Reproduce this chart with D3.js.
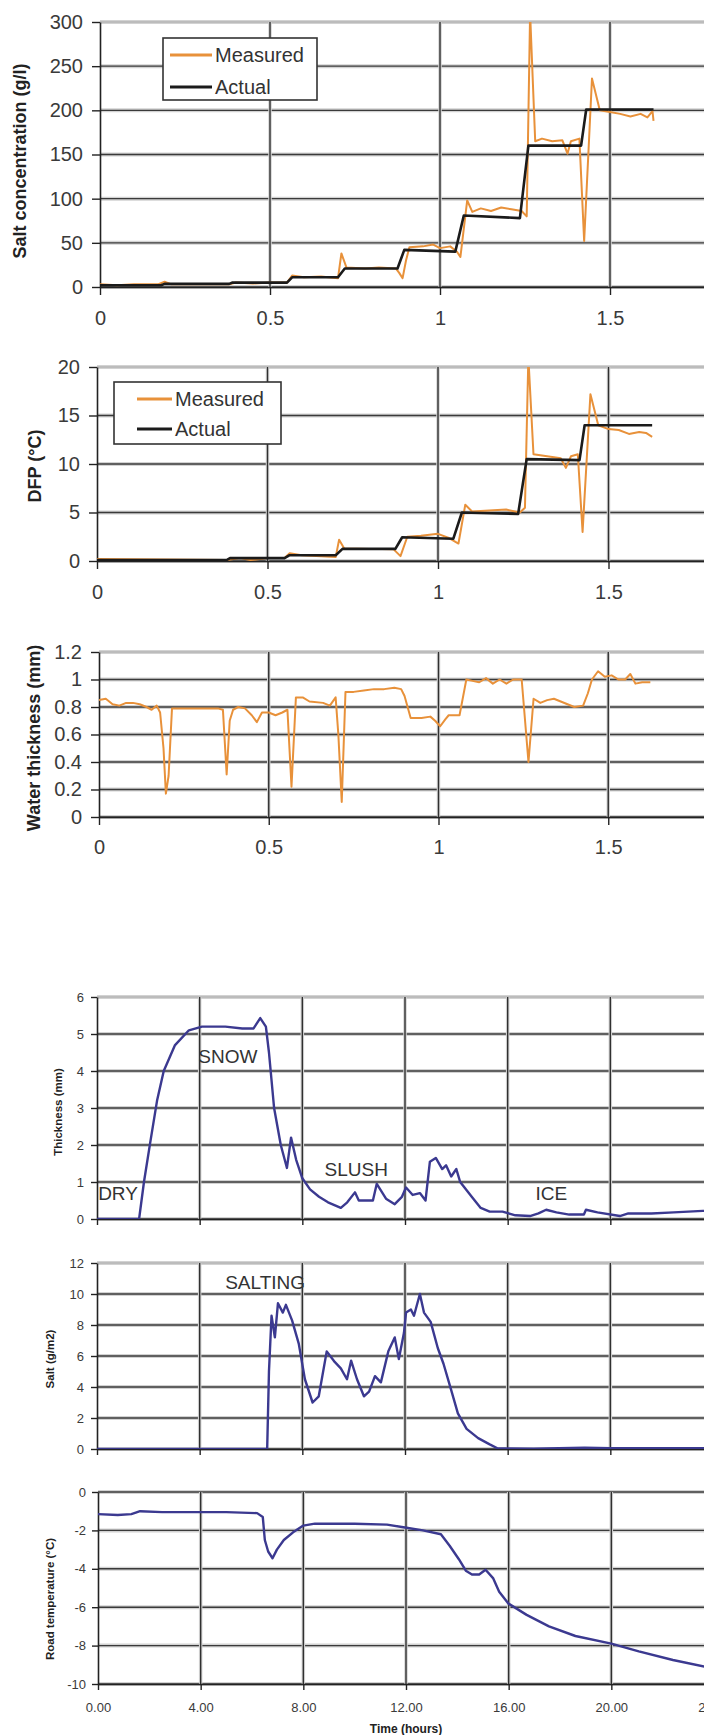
<!DOCTYPE html>
<html>
<head>
<meta charset="utf-8">
<script src="https://cdn.jsdelivr.net/npm/d3@7"></script>
<style>
  body { margin: 0; background: #fff; }
  svg { display: block; font-family: "Liberation Sans", Arial, sans-serif; }
</style>
</head>
<body>
<div id="chart"></div>
<script>
// ---- datos ----
const hoursTicks = [0, 4, 8, 12, 16, 20, 24];
const hoursLabels = ["0.00", "4.00", "8.00", "12.00", "16.00", "20.00", "24.00"];
const runTicks = [0, 0.5, 1, 1.5];

const saltConcTicks = [0, 50, 100, 150, 200, 250, 300];
const dfpTicks = [0, 5, 10, 15, 20];
const waterTicks = [0, 0.2, 0.4, 0.6, 0.8, 1, 1.2];
const thickTicks = [0, 1, 2, 3, 4, 5, 6];
const saltTicks = [0, 2, 4, 6, 8, 10, 12];
const tempTicks = [-10, -8, -6, -4, -2, 0];

const saltActual = [[0,2],[0.18,2],[0.19,3.5],[0.38,3.5],[0.39,5],[0.55,5],[0.565,11],[0.70,11],[0.72,21],[0.875,21],
  [0.895,42],[1.045,40],[1.07,81],[1.235,78],[1.26,160],[1.415,160],[1.43,201],[1.628,201]];
const saltMeasured = [[0,3],[0.05,2],[0.1,3],[0.17,3],[0.19,6],[0.21,3],[0.3,3],[0.38,3],[0.4,5],[0.45,4],[0.5,5],[0.55,5],
  [0.565,13],[0.6,11],[0.65,12],[0.70,10],[0.71,38],[0.725,22],[0.78,21],[0.82,22],[0.87,21],[0.88,16],[0.89,10],[0.9,30],
  [0.91,45],[0.95,46],[0.98,48],[1.0,44],[1.03,46],[1.05,40],[1.06,34],[1.08,98],[1.095,85],[1.12,89],[1.15,86],[1.18,90],
  [1.21,88],[1.24,86],[1.255,80],[1.265,310],[1.28,165],[1.3,168],[1.33,165],[1.36,166],[1.375,151],[1.385,165],[1.41,168],
  [1.424,52],[1.447,236],[1.47,200],[1.5,198],[1.53,196],[1.56,193],[1.59,196],[1.61,192],[1.625,199],[1.628,188]];

const dfpActual = [[0,0.1],[0.38,0.1],[0.39,0.3],[0.55,0.3],[0.565,0.6],[0.70,0.6],[0.72,1.25],[0.875,1.25],[0.895,2.45],
  [1.045,2.3],[1.07,5.0],[1.235,4.85],[1.26,10.5],[1.415,10.4],[1.43,14.0],[1.628,14.0]];
const dfpMeasured = [[0,0.2],[0.2,0.15],[0.38,0.1],[0.42,0.3],[0.45,0.1],[0.5,0.3],[0.55,0.3],[0.565,0.8],[0.6,0.6],[0.70,0.4],
  [0.71,2.2],[0.725,1.3],[0.8,1.25],[0.87,1.2],[0.89,0.5],[0.91,2.5],[0.95,2.6],[1.0,2.8],[1.03,2.4],[1.06,1.8],[1.08,5.8],
  [1.1,5.1],[1.15,5.2],[1.2,5.3],[1.24,5.0],[1.255,5.5],[1.265,21],[1.28,11],[1.32,10.8],[1.36,10.6],[1.375,9.6],[1.39,10.8],
  [1.41,11],[1.424,3.0],[1.447,17.2],[1.47,14],[1.5,13.6],[1.53,13.5],[1.56,13.1],[1.59,13.3],[1.61,13.2],[1.628,12.8]];

const waterMeasured = [[0,0.85],[0.02,0.86],[0.04,0.82],[0.06,0.81],[0.08,0.83],[0.1,0.83],[0.12,0.82],[0.14,0.80],[0.155,0.78],
  [0.17,0.81],[0.18,0.76],[0.19,0.5],[0.197,0.17],[0.205,0.3],[0.215,0.79],[0.25,0.79],[0.3,0.79],[0.35,0.79],[0.365,0.78],
  [0.376,0.31],[0.385,0.7],[0.395,0.78],[0.41,0.80],[0.43,0.79],[0.45,0.74],[0.465,0.69],[0.48,0.76],[0.5,0.76],[0.52,0.74],
  [0.54,0.76],[0.555,0.78],[0.567,0.22],[0.58,0.87],[0.6,0.87],[0.62,0.84],[0.66,0.83],[0.68,0.81],[0.697,0.87],[0.705,0.6],
  [0.715,0.11],[0.726,0.91],[0.75,0.91],[0.78,0.92],[0.81,0.93],[0.84,0.93],[0.87,0.94],[0.89,0.93],[0.9,0.88],[0.918,0.72],
  [0.95,0.72],[0.976,0.73],[0.99,0.70],[1.005,0.66],[1.02,0.71],[1.03,0.74],[1.062,0.74],[1.082,1.0],[1.1,0.99],[1.12,0.98],
  [1.14,1.01],[1.16,0.97],[1.18,1.0],[1.2,0.97],[1.22,1.0],[1.245,1.0],[1.265,0.40],[1.28,0.86],[1.3,0.83],[1.32,0.85],
  [1.34,0.86],[1.36,0.84],[1.38,0.82],[1.4,0.80],[1.426,0.81],[1.44,0.9],[1.452,1.0],[1.47,1.06],[1.49,1.02],[1.51,1.03],
  [1.53,1.0],[1.55,1.0],[1.565,1.04],[1.58,0.97],[1.6,0.98],[1.624,0.98]];

const thickness = [[0,0],[1.64,0],[1.83,1.0],[2.07,2.05],[2.34,3.2],[2.6,4.0],[3.04,4.7],[3.58,5.1],[4.09,5.2],[5.0,5.2],
  [5.66,5.15],[6.1,5.15],[6.36,5.43],[6.58,5.2],[6.7,4.5],[6.9,3.0],[7.16,2.0],[7.4,1.38],[7.56,2.2],[7.76,1.6],[8.0,1.1],
  [8.3,0.8],[8.65,0.6],[9.0,0.45],[9.5,0.3],[9.75,0.45],[10.05,0.72],[10.2,0.5],[10.75,0.5],[10.9,0.95],[11.26,0.55],
  [11.6,0.4],[11.88,0.6],[12.04,0.85],[12.3,0.65],[12.58,0.7],[12.8,0.5],[12.97,1.55],[13.2,1.65],[13.45,1.35],[13.6,1.45],
  [13.8,1.15],[14.0,1.35],[14.15,1.0],[14.6,0.6],[14.95,0.3],[15.3,0.2],[15.8,0.2],[16.3,0.1],[16.87,0.08],[17.2,0.15],
  [17.5,0.25],[17.9,0.18],[18.4,0.12],[18.97,0.12],[19.05,0.25],[19.5,0.18],[20.37,0.08],[20.7,0.15],[21.6,0.15],
  [22.47,0.18],[23.6,0.22],[24,0.22]];

const saltRoad = [[0,0],[6.63,0],[6.7,5.0],[6.8,8.6],[6.93,7.2],[7.05,9.4],[7.24,8.8],[7.36,9.3],[7.6,8.3],[7.86,6.8],
  [8.1,4.5],[8.4,3.0],[8.64,3.4],[8.95,6.3],[9.27,5.6],[9.5,5.2],[9.74,4.5],[9.9,5.7],[10.13,4.5],[10.4,3.4],[10.6,3.7],
  [10.83,4.7],[11.06,4.3],[11.35,6.3],[11.6,7.2],[11.76,5.8],[11.96,7.5],[12.04,8.8],[12.23,9.0],[12.35,8.6],[12.58,10.0],
  [12.74,8.8],[13.0,8.2],[13.28,6.5],[13.5,5.5],[13.8,3.8],[14.06,2.3],[14.4,1.3],[14.85,0.7],[15.3,0.3],[15.6,0.05],
  [17,0.02],[19,0.08],[20,0.05],[24,0.05]];

const roadTemp = [[0,-1.15],[0.77,-1.2],[1.3,-1.15],[1.64,-1.0],[2.5,-1.05],[4,-1.05],[5,-1.05],[6.2,-1.1],[6.42,-1.3],
  [6.5,-2.5],[6.63,-3.1],[6.8,-3.45],[6.97,-3.0],[7.24,-2.5],[7.6,-2.1],[8.0,-1.75],[8.45,-1.65],[10,-1.65],[11.26,-1.7],
  [11.96,-1.85],[12.66,-2.0],[13.36,-2.2],[13.7,-2.8],[14.06,-3.5],[14.33,-4.1],[14.57,-4.3],[14.85,-4.3],[15.1,-4.05],
  [15.4,-4.5],[15.63,-5.2],[15.98,-5.8],[16.7,-6.4],[17.57,-7.0],[18.6,-7.5],[20.0,-7.9],[21.07,-8.3],[22.4,-8.75],
  [23.65,-9.1],[24,-9.2]];

// etiquetas de estado (hora, valor)
const thickNotes = [["DRY", 0.82, 0.68], ["SNOW", 5.1, 4.38], ["SLUSH", 10.1, 1.35], ["ICE", 17.7, 0.68]];
const saltNotes = [["SALTING", 6.55, 10.77]];

const legendNames = ["Measured", "Actual"];

// ---- estilo ----
const ORANGE = "#e8913a";
const BLACK = "#1b1b1b";
const NAVY = "#3b3990";

const svg = d3.select("#chart")
  .append("svg")
  .attr("width", 704)
  .attr("height", 1735);

function drawPanel(p) {
  const g = svg.append("g");
  const x = d3.scaleLinear().domain(p.xDomain).range([p.left, p.right]);
  const y = d3.scaleLinear().domain(p.yDomain).range([p.bottom, p.top]);

  // Rejilla horizontal
  p.yTicks.forEach(v => {
    g.append("line")
      .attr("x1", p.left).attr("x2", p.right)
      .attr("y1", y(v)).attr("y2", y(v))
      .attr("stroke", "#d2d2d2").attr("stroke-width", 4);
    g.append("line")
      .attr("x1", p.left).attr("x2", p.right)
      .attr("y1", y(v)).attr("y2", y(v))
      .attr("stroke", (v === p.yDomain[1] && p.lightTop) ? "#b4b4b4" : "#3a3a3a")
      .attr("stroke-width", 1.4);
  });

  // Rejilla vertical
  p.xTicks.filter(v => v !== p.xDomain[0]).forEach(v => {
    g.append("line")
      .attr("x1", x(v)).attr("x2", x(v))
      .attr("y1", p.top).attr("y2", p.bottom)
      .attr("stroke", "#d2d2d2").attr("stroke-width", 3.5);
    g.append("line")
      .attr("x1", x(v)).attr("x2", x(v))
      .attr("y1", p.top).attr("y2", p.bottom)
      .attr("stroke", "#303030").attr("stroke-width", 1.4);
  });

  // Ejes
  const yAxis = d3.axisLeft(y)
    .tickValues(p.yTicks)
    .tickSize(p.tick).tickSizeOuter(0)
    .tickPadding(p.pad)
    .tickFormat(p.yFmt || (d => String(d)));

  g.append("g")
    .attr("transform", `translate(${p.left},0)`)
    .call(yAxis)
    .call(a => a.select(".domain").attr("stroke", "#222").attr("stroke-width", 1.6))
    .call(a => a.selectAll(".tick line").attr("stroke", "#222").attr("stroke-width", 1.4))
    .call(a => a.selectAll("text")
      .attr("font-size", p.font).attr("fill", "#3a3a3a")
      .attr("font-family", "Liberation Sans, Arial, sans-serif"));

  const xAxis = d3.axisBottom(x)
    .tickValues(p.xTicks)
    .tickSize(p.tick).tickSizeOuter(0)
    .tickFormat(p.xLabels ? ((d, i) => p.xLabels[i]) : () => "");

  g.append("g")
    .attr("transform", `translate(0,${y(p.yDomain[0])})`)
    .call(xAxis)
    .call(a => a.select(".domain").attr("stroke", "#222").attr("stroke-width", 1.6))
    .call(a => a.selectAll(".tick line").attr("stroke", "#222").attr("stroke-width", 1.4))
    .call(a => a.selectAll("text")
      .attr("font-size", p.font).attr("fill", "#3a3a3a")
      .attr("font-family", "Liberation Sans, Arial, sans-serif")
      .attr("y", p.xLabelOffset).attr("dy", "0.35em"));

  // Series
  const clipId = "clip" + p.id;
  g.append("clipPath").attr("id", clipId)
    .append("rect")
    .attr("x", p.left).attr("y", p.top)
    .attr("width", p.right - p.left).attr("height", p.bottom - p.top);

  const line = d3.line().x(d => x(d[0])).y(d => y(d[1]));
  p.series.forEach(s => {
    g.append("path")
      .datum(s.data)
      .attr("clip-path", `url(#${clipId})`)
      .attr("fill", "none")
      .attr("stroke", s.color)
      .attr("stroke-width", s.width)
      .attr("stroke-linejoin", "round")
      .attr("d", line);
  });

  // Notas de texto
  (p.notes || []).forEach(n => {
    g.append("text")
      .attr("x", x(n[1])).attr("y", y(n[2]))
      .attr("text-anchor", "middle")
      .attr("dominant-baseline", "central")
      .attr("font-size", 19)
      .attr("fill", "#333")
      .text(n[0]);
  });

  // Titulo eje Y
  g.append("text")
    .attr("transform", `translate(${p.titleX},${p.titleY}) rotate(-90)`)
    .attr("text-anchor", "middle")
    .attr("dominant-baseline", "central")
    .attr("font-size", p.titleSize)
    .attr("font-weight", "bold")
    .attr("fill", "#222")
    .text(p.title);

  // Leyenda
  if (p.legend) {
    const L = p.legend;
    g.append("rect")
      .attr("x", L.x).attr("y", L.y)
      .attr("width", L.w).attr("height", L.h)
      .attr("fill", "#fff").attr("stroke", "#333").attr("stroke-width", 1.6);
    [ORANGE, BLACK].forEach((c, i) => {
      const ry = L.y + L.rows[i];
      g.append("line")
        .attr("x1", L.lx1).attr("x2", L.lx2)
        .attr("y1", ry).attr("y2", ry)
        .attr("stroke", c).attr("stroke-width", 3);
      g.append("text")
        .attr("x", L.lx2 + 3).attr("y", ry)
        .attr("dominant-baseline", "central")
        .attr("font-size", 20).attr("fill", "#333")
        .text(legendNames[i]);
    });
  }
  return { x, y };
}

const runLabels = runTicks.map(d => String(d));

drawPanel({
  id: 1, left: 100, right: 780, top: 22, bottom: 287,
  xDomain: [0, 2], yDomain: [0, 300], xTicks: runTicks, yTicks: saltConcTicks, xLabels: runLabels,
  tick: 8, pad: 9, font: 20, xLabelOffset: 31, lightTop: true,
  series: [{ data: saltMeasured, color: ORANGE, width: 2 }, { data: saltActual, color: BLACK, width: 2.6 }],
  title: "Salt concentration  (g/l)", titleX: 20, titleY: 161, titleSize: 18,
  legend: { x: 163, y: 38, w: 154, h: 62, rows: [17, 49], lx1: 170, lx2: 212 }
});

drawPanel({
  id: 2, left: 97, right: 779, top: 367, bottom: 561,
  xDomain: [0, 2], yDomain: [0, 20], xTicks: runTicks, yTicks: dfpTicks, xLabels: runLabels,
  tick: 8, pad: 9, font: 20, xLabelOffset: 31, lightTop: true,
  series: [{ data: dfpMeasured, color: ORANGE, width: 2 }, { data: dfpActual, color: BLACK, width: 2.6 }],
  title: "DFP (°C)", titleX: 35, titleY: 466, titleSize: 18,
  legend: { x: 114, y: 382, w: 167, h: 62, rows: [17, 47], lx1: 137, lx2: 172 }
});

drawPanel({
  id: 3, left: 99, right: 778, top: 652, bottom: 817,
  xDomain: [0, 2], yDomain: [0, 1.2], xTicks: runTicks, yTicks: waterTicks, xLabels: runLabels,
  tick: 8, pad: 9, font: 20, xLabelOffset: 30, lightTop: true,
  series: [{ data: waterMeasured, color: ORANGE, width: 2 }],
  title: "Water thickness  (mm)", titleX: 34, titleY: 738, titleSize: 18
});

drawPanel({
  id: 4, left: 97, right: 713, top: 997, bottom: 1219,
  xDomain: [0, 24], yDomain: [0, 6], xTicks: hoursTicks, yTicks: thickTicks,
  tick: 6, pad: 7, font: 13, xLabelOffset: 23, lightTop: true,
  series: [{ data: thickness, color: NAVY, width: 2.4 }],
  notes: thickNotes,
  title: "Thickness (mm)", titleX: 58, titleY: 1112, titleSize: 11.5
});

drawPanel({
  id: 5, left: 97, right: 713, top: 1263, bottom: 1449,
  xDomain: [0, 24], yDomain: [0, 12], xTicks: hoursTicks, yTicks: saltTicks,
  tick: 6, pad: 7, font: 13, xLabelOffset: 23, lightTop: true,
  series: [{ data: saltRoad, color: NAVY, width: 2.4 }],
  notes: saltNotes,
  title: "Salt (g/m2)", titleX: 50, titleY: 1359, titleSize: 11.5
});

drawPanel({
  id: 6, left: 98, right: 714, top: 1492, bottom: 1684,
  xDomain: [0, 24], yDomain: [-10, 0], xTicks: hoursTicks, yTicks: tempTicks, xLabels: hoursLabels,
  tick: 6, pad: 6, font: 13, xLabelOffset: 23, lightTop: false,
  series: [{ data: roadTemp, color: NAVY, width: 2.4 }],
  title: "Road temperature (°C)", titleX: 50, titleY: 1599, titleSize: 11.5
});

// Titulo eje X
svg.append("text")
  .attr("x", 406).attr("y", 1729)
  .attr("text-anchor", "middle")
  .attr("dominant-baseline", "central")
  .attr("font-size", 12)
  .attr("font-weight", "bold")
  .attr("fill", "#222")
  .text("Time (hours)");
</script>
</body>
</html>
